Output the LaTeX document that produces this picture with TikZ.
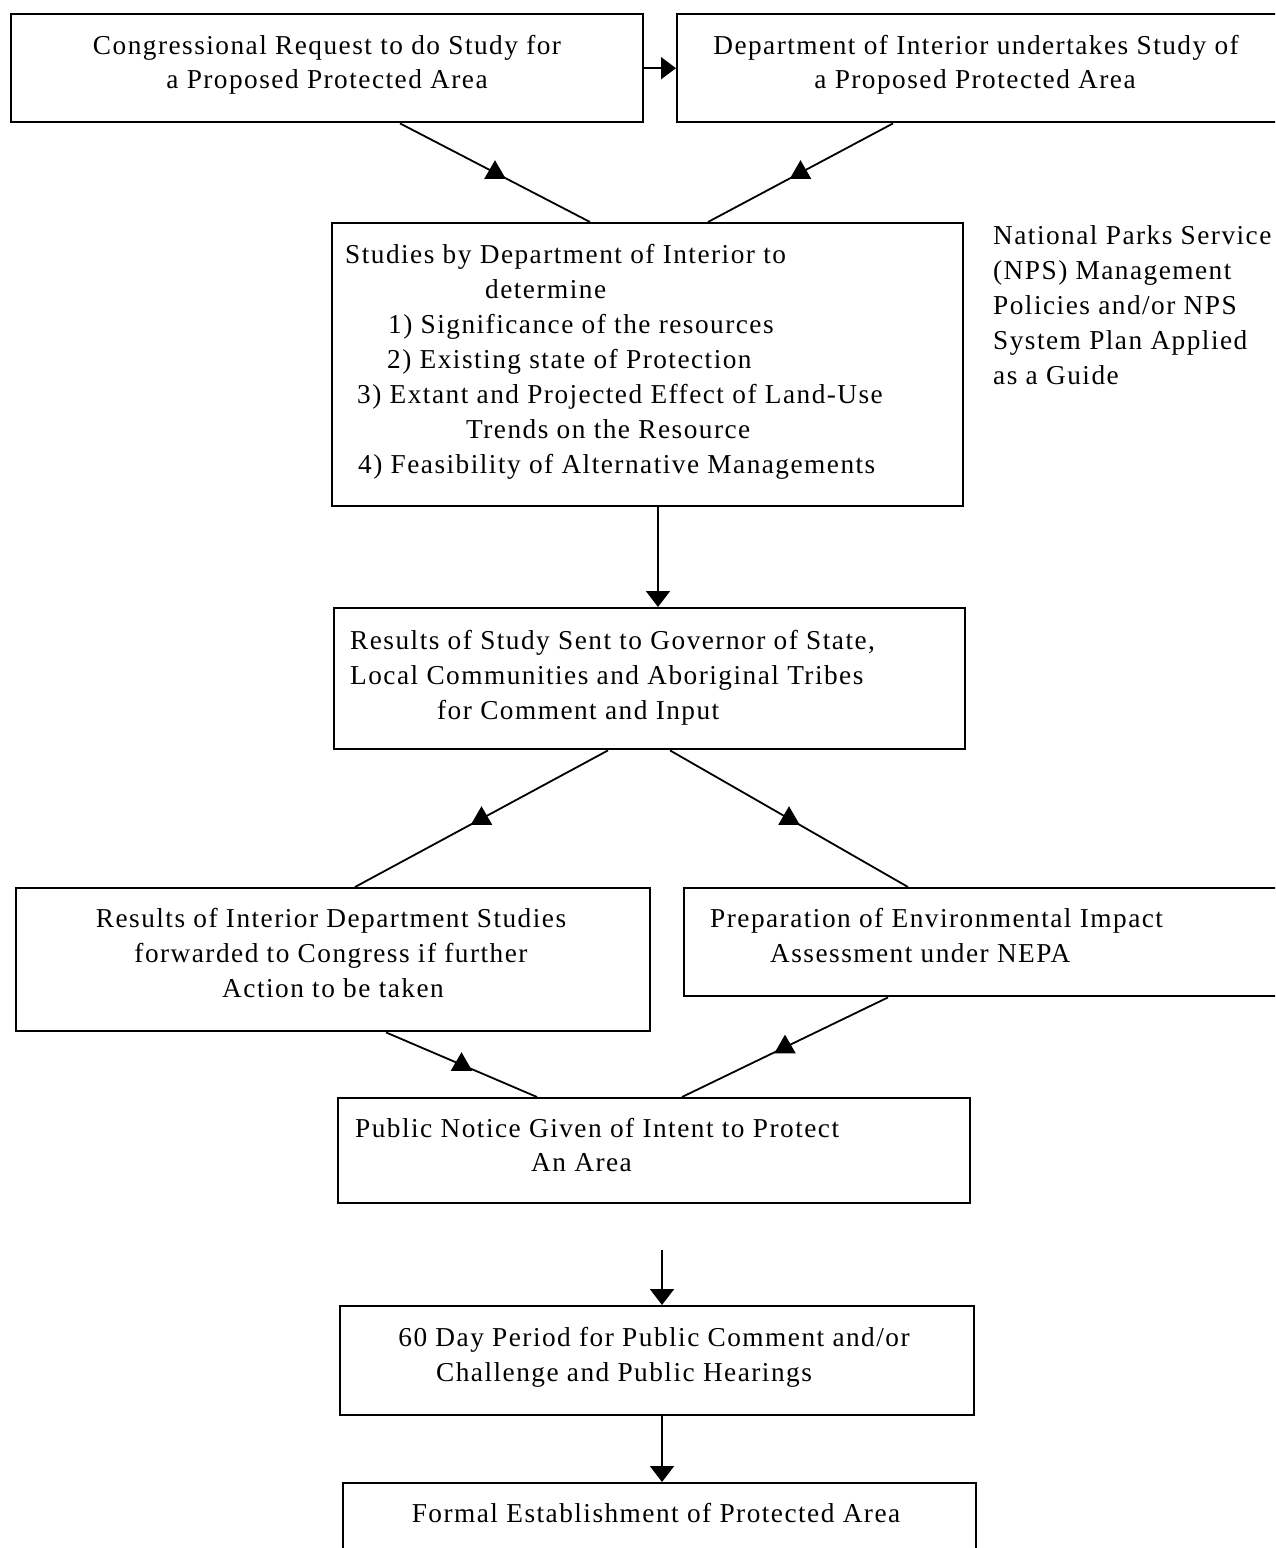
\documentclass[tikz,border=0pt]{standalone}
\usepackage{fontspec}
\setmainfont{Liberation Serif}[LetterSpace=5.4]
\usetikzlibrary{arrows.meta,shapes.geometric,calc}
\begin{document}
\begin{tikzpicture}[x=1pt,y=-1pt,
  box/.style={draw,line width=2.4pt,inner sep=0pt,anchor=north west},
  txt/.style={inner sep=0pt,font=\fontsize{27.3}{35}\selectfont},
  lt/.style={txt,anchor=base west},
  ct/.style={txt,anchor=base},
  conn/.style={line width=1.8pt},
  down/.style={conn,-{Triangle[width=24pt,length=16pt]}},
  mk/.style={regular polygon,regular polygon sides=3,fill,draw=none,inner sep=0pt,minimum size=25pt}
]
\useasboundingbox (0,0) rectangle (1275,1548);
\fill[white] (0,0) rectangle (1275,1548);
\clip (0,0) rectangle (1275,1548);

% boxes
\node[box,minimum width=632pt,minimum height=108pt] (cong) at (10,13) {};
\node[box,minimum width=620pt,minimum height=108pt] (doi) at (676,13) {};
\node[box,minimum width=631pt,minimum height=283pt] (stud) at (331,222) {};
\node[box,minimum width=631pt,minimum height=141pt] (res) at (333,607) {};
\node[box,minimum width=634pt,minimum height=143pt] (intr) at (15,887) {};
\node[box,minimum width=610pt,minimum height=108pt] (eia) at (683,887) {};
\node[box,minimum width=632pt,minimum height=105pt] (pub) at (337,1097) {};
\node[box,minimum width=634pt,minimum height=109pt] (sixty) at (339,1305) {};
\node[box,minimum width=633pt,minimum height=100pt] (formal) at (342,1482) {};

% texts
\node[ct] (t1a) at (327,54) {Congressional Request to do Study for};
\node[ct] (t1b) at (327,88) {a Proposed Protected Area};
\node[ct] (t2a) at (976,54) {Department of Interior undertakes Study of};
\node[ct] (t2b) at (975,88) {a Proposed Protected Area};

\node[lt] (s1) at (345,263) {Studies by Department of Interior to};
\node[lt] (s2) at (485,298) {determine};
\node[lt] (s3) at (388,333) {1) Significance of the resources};
\node[lt] (s4) at (387,368) {2) Existing state of Protection};
\node[lt] (s5) at (357,403) {3) Extant and Projected Effect of Land-Use};
\node[lt] (s6) at (466,438) {Trends on the Resource};
\node[lt] (s7) at (358,473) {4) Feasibility of Alternative Managements};

\node[lt] (n1) at (993,244) {National Parks Service};
\node[lt] (n2) at (993,279) {(NPS) Management};
\node[lt] (n3) at (993,314) {Policies and/or NPS};
\node[lt] (n4) at (993,349) {System Plan Applied};
\node[lt] (n5) at (993,384) {as a Guide};

\node[lt] (r1) at (350,649) {Results of Study Sent to Governor of State,};
\node[lt] (r2) at (350,684) {Local Communities and Aboriginal Tribes};
\node[lt] (r3) at (437,719) {for Comment and Input};

\node[ct] (i1) at (331,927) {Results of Interior Department Studies};
\node[ct] (i2) at (331,962) {forwarded to Congress if further};
\node[ct] (i3) at (333,997) {Action to be taken};

\node[lt] (e1) at (710,927) {Preparation of Environmental Impact};
\node[lt] (e2) at (770,962) {Assessment under NEPA};

\node[lt] (p1) at (355,1137) {Public Notice Given of Intent to Protect};
\node[lt] (p2) at (531,1171) {An Area};

\node[ct] (d1) at (654,1346) {60 Day Period for Public Comment and/or};
\node[ct] (d2) at (624,1381) {Challenge and Public Hearings};

\node[ct] (f1) at (656,1522) {Formal Establishment of Protected Area};

% connectors
\draw[conn,-{Triangle[width=22pt,length=15pt]}] (cong.east) -- (doi.west);
\draw[conn] ([xshift=390pt]cong.south west) -- node[mk]{} ([xshift=259pt]stud.north west);
\draw[conn] ([xshift=217pt]doi.south west) -- node[mk]{} ([xshift=377pt]stud.north west);
\draw[down] ([xshift=327pt]stud.south west) -- ([xshift=325pt]res.north west);
\draw[conn] ([xshift=275pt]res.south west) -- node[mk]{} ([xshift=340pt]intr.north west);
\draw[conn] ([xshift=337pt]res.south west) -- node[mk]{} ([xshift=225pt]eia.north west);
\draw[conn] ([xshift=371pt]intr.south west) -- node[mk]{} ([xshift=200pt]pub.north west);
\draw[conn] ([xshift=205pt]eia.south west) -- node[mk]{} ([xshift=345pt]pub.north west);
\coordinate (pn) at (662,1250);
\draw[down] (pn) -- ([xshift=323pt]sixty.north west);
\draw[down] ([xshift=323pt]sixty.south west) -- ([xshift=320pt]formal.north west);
\end{tikzpicture}
\end{document}
